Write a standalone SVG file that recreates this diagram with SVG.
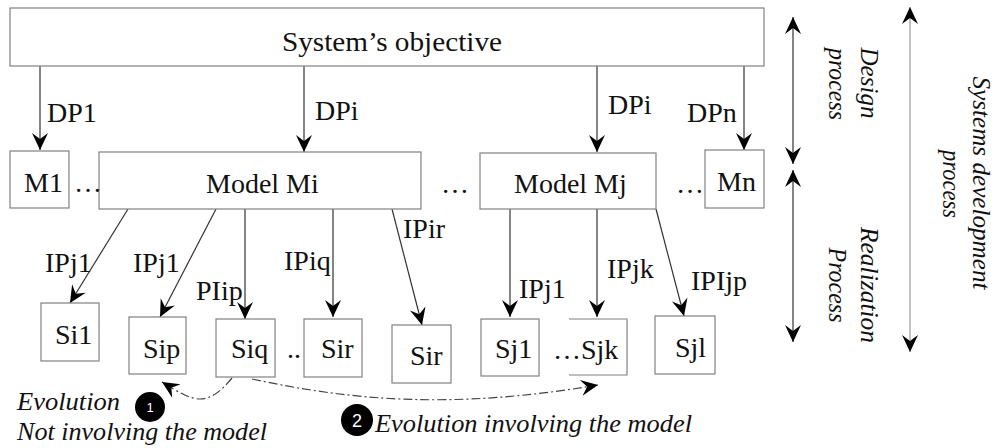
<svg xmlns="http://www.w3.org/2000/svg" width="997" height="448" viewBox="0 0 997 448">
<style>
.box{fill:#fff;stroke:#808080;stroke-width:1.2}
.t{font-family:'Liberation Serif','DejaVu Serif',serif;font-size:28px;fill:#111}
.it{font-family:'Liberation Serif','DejaVu Serif',serif;font-style:italic;font-size:25px;fill:#111}
.ln{fill:none;stroke:#333;stroke-width:1.2}
.gl{fill:none;stroke:#999;stroke-width:1.2}
.dd{fill:none;stroke:#444;stroke-width:1.2;stroke-dasharray:9 3 2 3}
</style>
<defs>
<marker id="ah" markerUnits="userSpaceOnUse" markerWidth="20" markerHeight="20" viewBox="-18 -10 20 20" refX="0" refY="0" orient="auto-start-reverse">
<path d="M0,0 L-17,-8 L-11,0 L-17,8 Z" fill="#000"/>
</marker>
</defs>

<g id="connectors">
<line class="ln" x1="40" y1="66" x2="40" y2="150" marker-end="url(#ah)"/>
<line class="ln" x1="304" y1="66" x2="304" y2="152" marker-end="url(#ah)"/>
<line class="ln" x1="597" y1="66" x2="597" y2="152" marker-end="url(#ah)"/>
<line class="ln" x1="744" y1="66" x2="744" y2="150" marker-end="url(#ah)"/>
<line class="ln" x1="128" y1="209" x2="70" y2="303" marker-end="url(#ah)"/>
<line class="ln" x1="216" y1="209" x2="160" y2="317" marker-end="url(#ah)"/>
<line class="ln" x1="245" y1="209" x2="245" y2="319" marker-end="url(#ah)"/>
<line class="ln" x1="333" y1="209" x2="333" y2="317" marker-end="url(#ah)"/>
<line class="ln" x1="392" y1="209" x2="422" y2="325" marker-end="url(#ah)"/>
<line class="ln" x1="510" y1="209" x2="510" y2="317" marker-end="url(#ah)"/>
<line class="ln" x1="597" y1="209" x2="597" y2="317" marker-end="url(#ah)"/>
<line class="ln" x1="656" y1="209" x2="684" y2="316" marker-end="url(#ah)"/>
<line class="ln" x1="793" y1="17" x2="793" y2="164" marker-start="url(#ah)" marker-end="url(#ah)"/>
<line class="ln" x1="793" y1="170" x2="793" y2="342" marker-start="url(#ah)" marker-end="url(#ah)"/>
<line class="gl" x1="910" y1="7" x2="910" y2="352" marker-start="url(#ah)" marker-end="url(#ah)"/>
<path class="dd" d="M232,378 C222,390 212,399 200,399 C190,399 178,392 162,382" marker-end="url(#ah)"/>
<path class="dd" d="M252,379 C350,400 450,410 598,385" marker-end="url(#ah)"/>
</g>

<g id="objective">
<rect class="box" x="10" y="8" width="754" height="58"/>
<text class="t" x="282" y="51" textLength="220" lengthAdjust="spacingAndGlyphs">System’s objective</text>
</g>

<g id="labels-dp">
<text class="t" x="47" y="122">DP1</text>
<text class="t" x="315" y="120">DPi</text>
<text class="t" x="608" y="114">DPi</text>
<text class="t" x="687" y="122">DPn</text>
</g>

<g id="M1"><rect class="box" x="10" y="151" width="59" height="57"/><text class="t" x="24" y="192">M1</text></g>
<g id="Mi"><rect class="box" x="99" y="152" width="322" height="57"/><text class="t" x="206" y="193">Model Mi</text></g>
<g id="Mj"><rect class="box" x="480" y="153" width="176" height="56"/><text class="t" x="514" y="193">Model Mj</text></g>
<g id="Mn"><rect class="box" x="705" y="150" width="59" height="58"/><text class="t" x="717" y="191">Mn</text></g>
<g id="dots">
<text class="t" x="74" y="192">…</text>
<text class="t" x="441" y="193">…</text>
<text class="t" x="676" y="193">…</text>
<text class="t" x="287" y="358">..</text>
</g>

<g id="labels-ip">
<text class="t" x="45" y="272">IPj1</text>
<text class="t" x="133" y="272">IPj1</text>
<text class="t" x="196" y="300">PIip</text>
<text class="t" x="284" y="270">IPiq</text>
<text class="t" x="403" y="238">IPir</text>
<text class="t" x="519" y="298">IPj1</text>
<text class="t" x="607" y="278">IPjk</text>
<text class="t" x="691" y="290">IPIjp</text>
</g>

<g id="Si1"><rect class="box" x="41" y="303" width="58" height="58"/><text class="t" x="55" y="344">Si1</text></g>
<g id="Sip"><rect class="box" x="129" y="317" width="57" height="57"/><text class="t" x="143" y="358">Sip</text></g>
<g id="Siq"><rect class="box" x="216" y="319" width="59" height="58"/><text class="t" x="231" y="358">Siq</text></g>
<g id="Sir1"><rect class="box" x="304" y="319" width="58" height="58"/><text class="t" x="321" y="358">Sir</text></g>
<g id="Sir2"><rect class="box" x="392" y="325" width="59" height="58"/><text class="t" x="410" y="365">Sir</text></g>
<g id="Sj1"><rect class="box" x="481" y="319" width="58" height="57"/><text class="t" x="495" y="358">Sj1</text></g>
<g id="Sjk"><path class="box" d="M569,319 H627 V375 H569" style="fill:none"/><text class="t" x="553" y="359">…Sjk</text></g>
<g id="Sjl"><rect class="box" x="655" y="316" width="60" height="58"/><text class="t" x="675" y="357">Sjl</text></g>

<g id="process-labels">
<text class="it" transform="translate(861,83) rotate(90)" text-anchor="middle" textLength="71" lengthAdjust="spacingAndGlyphs">Design</text>
<text class="it" transform="translate(829,84) rotate(90)" text-anchor="middle" textLength="72" lengthAdjust="spacingAndGlyphs">process</text>
<text class="it" transform="translate(861,285) rotate(90)" text-anchor="middle" textLength="116" lengthAdjust="spacingAndGlyphs">Realization</text>
<text class="it" transform="translate(829,285) rotate(90)" text-anchor="middle" textLength="75" lengthAdjust="spacingAndGlyphs">Process</text>
<text class="it" transform="translate(973,183) rotate(90)" text-anchor="middle" textLength="213" lengthAdjust="spacingAndGlyphs">Systems development</text>
<text class="it" transform="translate(943,184) rotate(90)" text-anchor="middle" textLength="68" lengthAdjust="spacingAndGlyphs">process</text>
</g>

<g id="evolution1">
<circle cx="150" cy="407" r="15" fill="#000"/>
<text x="150" y="412" text-anchor="middle" font-family="'Liberation Sans', Arial, sans-serif" font-size="13" fill="#fff">1</text>
<text class="it" x="17" y="410" textLength="103" lengthAdjust="spacingAndGlyphs">Evolution</text>
<text class="it" x="17" y="440" textLength="250" lengthAdjust="spacingAndGlyphs">Not involving the model</text>
</g>
<g id="evolution2">
<circle cx="357" cy="420" r="16" fill="#000"/>
<text x="357" y="427" text-anchor="middle" font-family="'Liberation Sans', Arial, sans-serif" font-size="18" fill="#fff">2</text>
<text class="it" x="375" y="432" textLength="317" lengthAdjust="spacingAndGlyphs">Evolution involving the model</text>
</g>
</svg>
